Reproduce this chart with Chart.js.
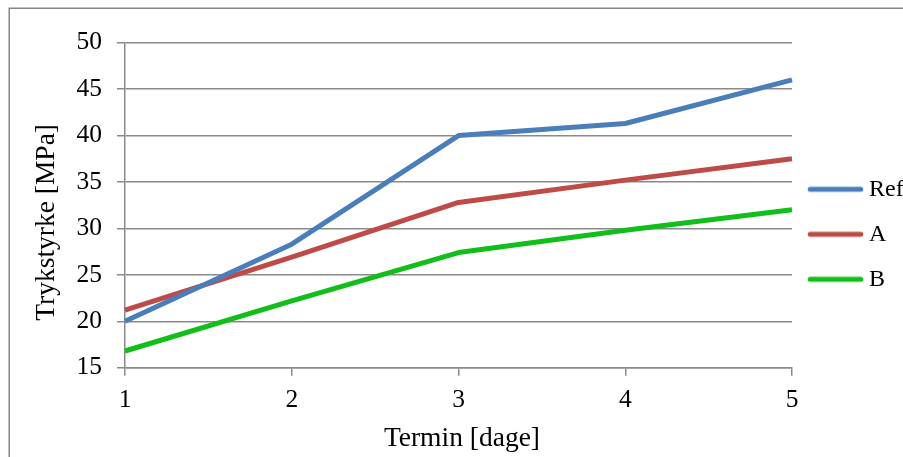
<!DOCTYPE html>
<html>
<head>
<meta charset="utf-8">
<title>Trykstyrke</title>
<script src="https://cdn.jsdelivr.net/npm/chart.js@4/dist/chart.umd.min.js"></script>
<style>
  html, body { margin: 0; padding: 0; background: #ffffff; overflow: hidden; width: 903px; height: 457px; }
  canvas { display: block; }
</style>
</head>
<body>
<canvas id="chart" width="960" height="470"></canvas>
<script>
// Compressive strength per test day
const days = ['1', '2', '3', '4', '5'];
const refValues = [20.0, 28.3, 40.0, 41.3, 46.0];
const aValues = [21.2, 26.9, 32.8, 35.2, 37.5];
const bValues = [16.8, 22.2, 27.4, 29.8, 32.0];
const seriesNames = ['Ref', 'A', 'B'];
const yTicks = { min: 15, max: 50, step: 5 };

const colors = ['#4a7ebb', '#be4b48', '#12bf1a'];
const gridColor = '#8a8a8a';
const serif = "'Liberation Serif', 'Times New Roman', serif";

const CANVAS_W = 960;
const PLOT_RIGHT = 792;
const LEGEND_FONT = 24;
const LEGEND_PAD = 21;
const MARKER_W = 44;

// Short stroke used as the legend marker for each series
function legendStroke(color) {
  const c = document.createElement('canvas');
  c.width = 60; c.height = 10;
  const g = c.getContext('2d');
  g.strokeStyle = color;
  g.lineWidth = 5;
  g.lineCap = 'round';
  g.beginPath();
  g.moveTo(5.2, 5);
  g.lineTo(55.8, 5);
  g.stroke();
  return c;
}

// Legend width as Chart.js computes it, so the plot ends at PLOT_RIGHT
function legendWidth() {
  const g = document.createElement('canvas').getContext('2d');
  g.font = LEGEND_FONT + 'px ' + serif;
  const textW = Math.max(...seriesNames.map(n => g.measureText(n).width));
  return 10 + LEGEND_PAD + MARKER_W + LEGEND_FONT / 2 + textW;
}

// Outer frame of the chart object
const framePlugin = {
  id: 'frame',
  beforeDraw(chart) {
    const ctx = chart.ctx;
    ctx.save();
    ctx.fillStyle = '#ffffff';
    ctx.fillRect(0, 0, chart.width, chart.height);
    ctx.strokeStyle = '#868686';
    ctx.lineWidth = 1.5;
    ctx.strokeRect(9.25, 8.25, 2000, 2000);
    ctx.restore();
  }
};

Chart.defaults.font.family = serif;
Chart.defaults.color = '#000000';

const seriesValues = [refValues, aValues, bValues];
const rightPad = CANVAS_W - PLOT_RIGHT - legendWidth();

new Chart(document.getElementById('chart'), {
  type: 'line',
  data: {
    labels: days,
    datasets: seriesNames.map((name, i) => ({
      label: name,
      data: seriesValues[i],
      borderColor: colors[i],
      backgroundColor: colors[i],
      borderWidth: 5,
      borderJoinStyle: 'round',
      borderCapStyle: 'butt',
      pointRadius: 0,
      pointHoverRadius: 0,
      pointStyle: legendStroke(colors[i]),
      tension: 0,
      fill: false
    }))
  },
  options: {
    responsive: false,
    animation: false,
    devicePixelRatio: 1,
    layout: { padding: { top: 42.7, left: 0, right: rightPad, bottom: 44.1 } },
    plugins: {
      tooltip: { enabled: false },
      legend: {
        position: 'right',
        labels: {
          usePointStyle: true,
          pointStyleWidth: MARKER_W,
          padding: LEGEND_PAD,
          color: '#000000',
          font: { family: serif, size: LEGEND_FONT }
        }
      }
    },
    scales: {
      x: {
        type: 'category',
        offset: false,
        grid: {
          display: true,
          drawOnChartArea: false,
          drawTicks: true,
          tickLength: 8,
          color: gridColor,
          lineWidth: 1.5,
          offset: false
        },
        border: { display: true, color: gridColor, width: 1.5 },
        ticks: { padding: 9, color: '#000000', font: { family: serif, size: 25.5 }, maxRotation: 0 },
        title: {
          display: true,
          text: ' Termin [dage]',
          color: '#000000',
          font: { family: serif, size: 27.5 },
          padding: { top: 0, bottom: -28.9 }
        },
        afterFit(scale) { scale.height = 58.2; }
      },
      y: {
        min: yTicks.min,
        max: yTicks.max,
        ticks: {
          stepSize: yTicks.step,
          padding: 15,
          color: '#000000',
          font: { family: serif, size: 25.5 }
        },
        grid: {
          color: gridColor,
          lineWidth: 1.5,
          drawTicks: true,
          tickLength: 8
        },
        border: { display: true, color: gridColor, width: 1.5 },
        title: {
          display: true,
          text: 'Trykstyrke [MPa]     ',
          color: '#000000',
          font: { family: serif, size: 27.5 },
          padding: { top: 30.5, bottom: 0 }
        },
        afterFit(scale) { scale.width = 125; }
      }
    }
  },
  plugins: [framePlugin]
});
</script>
</body>
</html>
